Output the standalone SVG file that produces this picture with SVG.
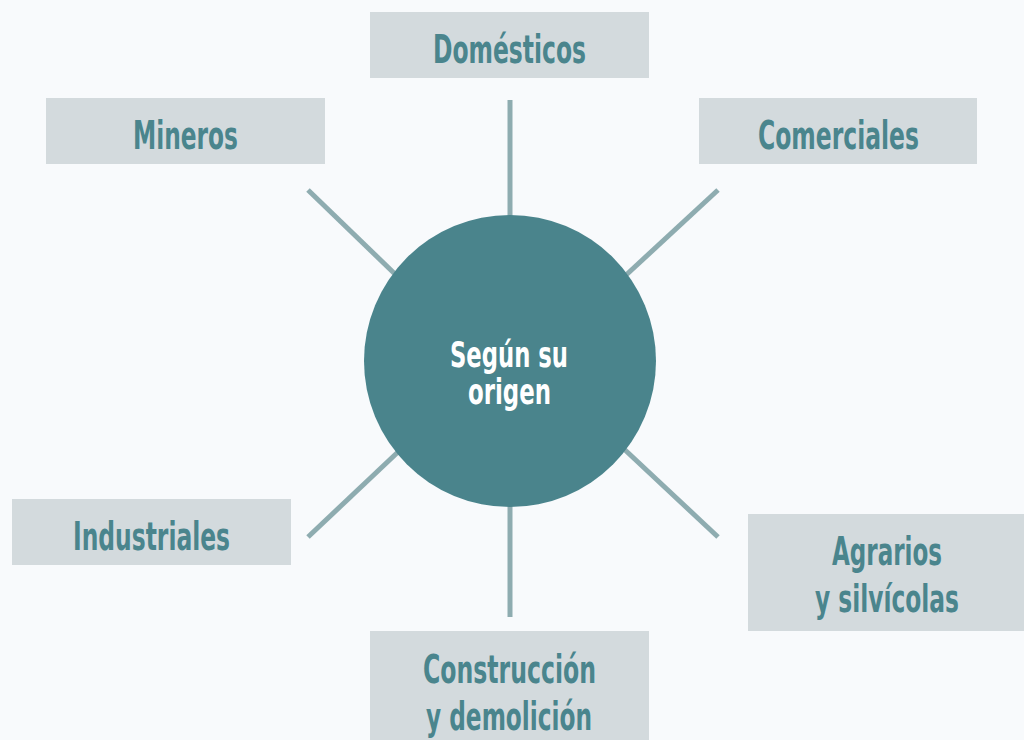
<svg xmlns="http://www.w3.org/2000/svg" width="1024" height="740" viewBox="0 0 1024 740">
<style>
.bg{fill:#f8fafc}
.box{fill:#d3dadd}
.lbl{font-family:"Liberation Sans Narrow","DejaVu Sans Condensed","Liberation Sans",sans-serif;font-weight:bold;font-size:39px;fill:#4a858d;text-anchor:middle}
.ctr{fill:#ffffff;font-size:36px}
.conn line{stroke:#8eacb0;stroke-width:5}
</style>
<rect class="bg" width="1024" height="740"/>
<g id="connectors" class="conn">
<line x1="510" y1="100" x2="510" y2="218"/>
<line x1="510" y1="504" x2="510" y2="617"/>
<line x1="308" y1="190" x2="396" y2="275"/>
<line x1="718" y1="190" x2="625" y2="276"/>
<line x1="308" y1="537" x2="398" y2="452"/>
<line x1="718" y1="537" x2="624" y2="449"/>
</g>
<g id="center">
<circle cx="510" cy="361" r="146" fill="#4a848c"/>
<text class="lbl ctr" x="509" y="367" textLength="118" lengthAdjust="spacingAndGlyphs">Según su</text>
<text class="lbl ctr" x="509.5" y="404" textLength="83" lengthAdjust="spacingAndGlyphs">origen</text>
</g>
<g id="domesticos">
<rect class="box" x="370" y="12" width="279" height="66"/>
<text class="lbl" x="509.5" y="63" textLength="153" lengthAdjust="spacingAndGlyphs">Domésticos</text>
</g>
<g id="mineros">
<rect class="box" x="46" y="98" width="279" height="66"/>
<text class="lbl" x="185.5" y="149" textLength="105" lengthAdjust="spacingAndGlyphs">Mineros</text>
</g>
<g id="comerciales">
<rect class="box" x="699" y="98" width="278" height="66"/>
<text class="lbl" x="838.5" y="149" textLength="161" lengthAdjust="spacingAndGlyphs">Comerciales</text>
</g>
<g id="industriales">
<rect class="box" x="12" y="499" width="279" height="66"/>
<text class="lbl" x="151.5" y="550" textLength="157" lengthAdjust="spacingAndGlyphs">Industriales</text>
</g>
<g id="agrarios">
<rect class="box" x="748" y="514" width="276" height="117"/>
<text class="lbl" x="887" y="565" textLength="110" lengthAdjust="spacingAndGlyphs">Agrarios</text>
<text class="lbl" x="887" y="612" font-size="37" style="font-size:37px" textLength="144" lengthAdjust="spacingAndGlyphs">y silvícolas</text>
</g>
<g id="construccion">
<rect class="box" x="370" y="631" width="279" height="109"/>
<text class="lbl" x="509.5" y="683" textLength="173" lengthAdjust="spacingAndGlyphs">Construcción</text>
<text class="lbl" x="509" y="730" textLength="166" lengthAdjust="spacingAndGlyphs">y demolición</text>
</g>
</svg>
